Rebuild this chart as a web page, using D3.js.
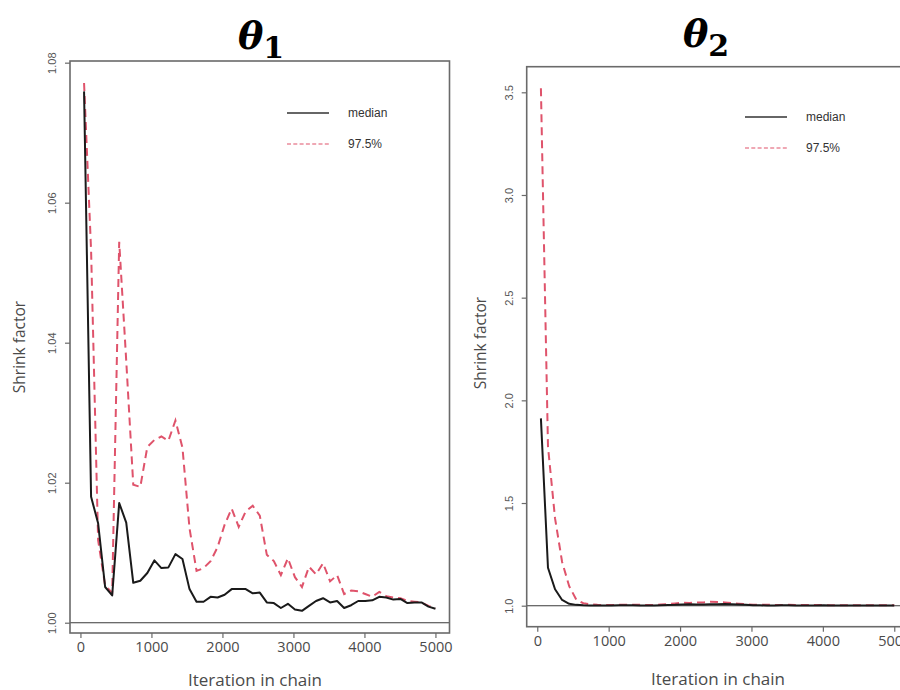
<!DOCTYPE html>
<html>
<head>
<meta charset="utf-8">
<script src="https://cdn.jsdelivr.net/npm/d3@7"></script>
<style>
  html, body { margin: 0; padding: 0; background: #fff; }
  svg { display: block; }
</style>
</head>
<body>
<svg id="chart" width="900" height="690"></svg>
<script>
// Iterations at which the shrink factor was evaluated
const iterations = [51, 150, 249, 348, 447, 546, 645, 744, 843, 942,
  1041, 1140, 1239, 1338, 1437, 1536, 1635, 1734, 1833, 1932,
  2031, 2130, 2229, 2328, 2427, 2526, 2625, 2724, 2823, 2922,
  3021, 3120, 3219, 3318, 3417, 3516, 3615, 3714, 3813, 3912,
  4011, 4110, 4209, 4308, 4407, 4506, 4605, 4704, 4803, 4902, 5000];

// theta_1: median and 97.5% shrink factor
const theta1Median = [1.0759, 1.0180, 1.0142, 1.0051, 1.0039, 1.0171, 1.0143, 1.0057, 1.0060, 1.0071,
  1.0089, 1.0078, 1.0079, 1.0098, 1.0091, 1.0048, 1.0030, 1.0030, 1.0037, 1.0036,
  1.0040, 1.0048, 1.0048, 1.0048, 1.0042, 1.0043, 1.0029, 1.0028, 1.0021, 1.0027,
  1.0019, 1.0017, 1.0024, 1.0031, 1.0035, 1.0029, 1.0031, 1.0021, 1.0025, 1.0031,
  1.0031, 1.0032, 1.0037, 1.0036, 1.0033, 1.0034, 1.0028, 1.0029, 1.0029, 1.0023, 1.0020];
const theta1Upper = [1.0771, 1.0532, 1.0118, 1.0053, 1.0043, 1.0544, 1.0374, 1.0197, 1.0194, 1.0251,
  1.0261, 1.0266, 1.0260, 1.0289, 1.0250, 1.0135, 1.0074, 1.0078, 1.0088, 1.0108,
  1.0140, 1.0163, 1.0137, 1.0159, 1.0167, 1.0153, 1.0097, 1.0088, 1.0068, 1.0092,
  1.0065, 1.0051, 1.0080, 1.0069, 1.0085, 1.0059, 1.0068, 1.0041, 1.0046, 1.0045,
  1.0041, 1.0037, 1.0044, 1.0038, 1.0036, 1.0035, 1.0031, 1.0030, 1.0029, 1.0024, 1.0021];

// theta_2: median and 97.5% shrink factor
const theta2Median = [1.912, 1.185, 1.080, 1.028, 1.009, 1.004, 1.002, 1.001, 1.001, 1.001,
  1.001, 1.002, 1.002, 1.002, 1.001, 1.001, 1.001, 1.002, 1.003, 1.004,
  1.006, 1.007, 1.006, 1.006, 1.007, 1.007, 1.008, 1.007, 1.006, 1.004,
  1.002, 1.002, 1.001, 1.001, 1.002, 1.002, 1.001, 1.001, 1.001, 1.001,
  1.002, 1.001, 1.001, 1.001, 1.001, 1.001, 1.001, 1.001, 1.001, 1.001, 1.001];
const theta2Upper = [3.520, 1.775, 1.425, 1.213, 1.095, 1.030, 1.012, 1.006, 1.004, 1.003,
  1.003, 1.004, 1.005, 1.004, 1.004, 1.003, 1.004, 1.006, 1.008, 1.011,
  1.014, 1.013, 1.015, 1.016, 1.019, 1.018, 1.016, 1.013, 1.010, 1.007,
  1.005, 1.004, 1.004, 1.004, 1.003, 1.004, 1.003, 1.003, 1.003, 1.003,
  1.003, 1.002, 1.002, 1.002, 1.002, 1.002, 1.002, 1.002, 1.002, 1.002, 1.002];

// Axis ticks
const xTickValues = [0, 1000, 2000, 3000, 4000, 5000];
const theta1Ticks = [1.00, 1.02, 1.04, 1.06, 1.08];
const theta2Ticks = [1.0, 1.5, 2.0, 2.5, 3.0, 3.5];

const seriesNames = ["median", "97.5%"];
const xTitle = "Iteration in chain";
const yTitle = "Shrink factor";

const RED = "#DF536B";
const INK = "#1a1a1a";
const FRAME = "#6a6a6a";
const LABEL = "#4a4a4a";

const svg = d3.select("#chart");

const panels = [
  {
    sub: "1",
    box: { x0: 70, x1: 449.5, y0: 61, y1: 633 },
    xDomain: [-147, 5198],
    yDomain: [0.99853, 1.08024],
    median: theta1Median,
    upper: theta1Upper,
    yTicks: theta1Ticks,
    yFmt: d3.format(".2f"),
    titleX: 238, titleY: 49,
    legendX: 287, legendY: 113,
    yTitleX: 25, yTitleY: 347,
    xTitleX: 255, xTitleY: 686
  },
  {
    sub: "2",
    box: { x0: 526.7, x1: 908.4, y0: 66.7, y1: 626.7 },
    xDomain: [-148, 5198],
    yDomain: [0.8977, 3.6247],
    median: theta2Median,
    upper: theta2Upper,
    yTicks: theta2Ticks,
    yFmt: d3.format(".1f"),
    titleX: 683, titleY: 47,
    legendX: 745, legendY: 117,
    yTitleX: 486, yTitleY: 343,
    xTitleX: 718, xTitleY: 685
  }
];

panels.forEach(p => {
  const g = svg.append("g");
  const x = d3.scaleLinear().domain(p.xDomain).range([p.box.x0, p.box.x1]);
  const y = d3.scaleLinear().domain(p.yDomain).range([p.box.y1, p.box.y0]);

  // reference line at 1
  g.append("line")
    .attr("x1", p.box.x0).attr("x2", p.box.x1)
    .attr("y1", y(1)).attr("y2", y(1))
    .attr("stroke", "#3a3a3a").attr("stroke-width", 1.1);

  // series
  const line = d3.line().x((d, i) => x(iterations[i])).y(d => y(d));
  g.append("path").datum(p.upper)
    .attr("d", line).attr("fill", "none")
    .attr("stroke", RED).attr("stroke-width", 2)
    .attr("stroke-dasharray", "8,5");
  g.append("path").datum(p.median)
    .attr("d", line).attr("fill", "none")
    .attr("stroke", INK).attr("stroke-width", 2)
    .attr("stroke-linejoin", "round");

  // frame
  g.append("rect")
    .attr("x", p.box.x0).attr("y", p.box.y0)
    .attr("width", p.box.x1 - p.box.x0).attr("height", p.box.y1 - p.box.y0)
    .attr("fill", "none").attr("stroke", FRAME).attr("stroke-width", 1.6);

  // x axis
  const xa = g.append("g")
    .attr("transform", `translate(0,${p.box.y1})`)
    .call(d3.axisBottom(x).tickValues(xTickValues).tickSize(5).tickFormat(d3.format("d")));
  xa.select(".domain").remove();
  xa.selectAll(".tick line").attr("stroke", FRAME).attr("stroke-width", 1.2);
  xa.selectAll(".tick text")
    .attr("y", 19).attr("dy", 0)
    .attr("fill", LABEL)
    .style("font-family", "'Open Sans', sans-serif")
    .style("font-size", "14.5px");

  // y axis
  const ya = g.append("g")
    .attr("transform", `translate(${p.box.x0},0)`)
    .call(d3.axisLeft(y).tickValues(p.yTicks).tickSize(5).tickFormat(p.yFmt));
  ya.select(".domain").remove();
  ya.selectAll(".tick line").attr("stroke", FRAME).attr("stroke-width", 1.2);
  ya.selectAll(".tick text")
    .attr("x", null).attr("dy", 0)
    .attr("transform", "translate(-14,0) rotate(-90)")
    .attr("text-anchor", "middle")
    .attr("fill", "#555")
    .style("font-family", "'Liberation Sans', Arial, sans-serif")
    .style("font-size", "11px");

  // axis titles
  g.append("text")
    .attr("x", p.xTitleX).attr("y", p.xTitleY)
    .attr("text-anchor", "middle")
    .attr("fill", LABEL)
    .style("font-family", "'Open Sans', sans-serif")
    .style("font-size", "17px")
    .text(xTitle);
  g.append("text")
    .attr("transform", `translate(${p.yTitleX},${p.yTitleY}) rotate(-90)`)
    .attr("text-anchor", "middle")
    .attr("fill", LABEL)
    .style("font-family", "'Open Sans', sans-serif")
    .style("font-size", "15.5px")
    .text(yTitle);

  // panel title: theta with subscript
  const t = g.append("text")
    .attr("x", p.titleX).attr("y", p.titleY)
    .attr("fill", "#000")
    .style("font-family", "'DejaVu Serif', serif");
  t.append("tspan")
    .style("font-size", "38px").style("font-weight", "bold").style("font-style", "italic")
    .text("θ");
  t.append("tspan")
    .attr("dy", 9)
    .style("font-size", "30px").style("font-weight", "bold")
    .text(p.sub);

  // legend
  const lg = g.append("g").attr("transform", `translate(${p.legendX},${p.legendY})`);
  const items = [
    { name: seriesNames[0], color: "#333", dash: null, width: 1.3 },
    { name: seriesNames[1], color: RED, dash: "4,2.3", width: 1.1 }
  ];
  items.forEach((it, i) => {
    const yy = i * 31;
    lg.append("line")
      .attr("x1", 0).attr("x2", 42).attr("y1", yy).attr("y2", yy)
      .attr("stroke", it.color).attr("stroke-width", it.width)
      .attr("stroke-dasharray", it.dash);
    lg.append("text")
      .attr("x", 61).attr("y", yy + 4)
      .attr("fill", "#333")
      .style("font-family", "'Liberation Sans', Arial, sans-serif")
      .style("font-size", "12px")
      .text(it.name);
  });
});
</script>
</body>
</html>
